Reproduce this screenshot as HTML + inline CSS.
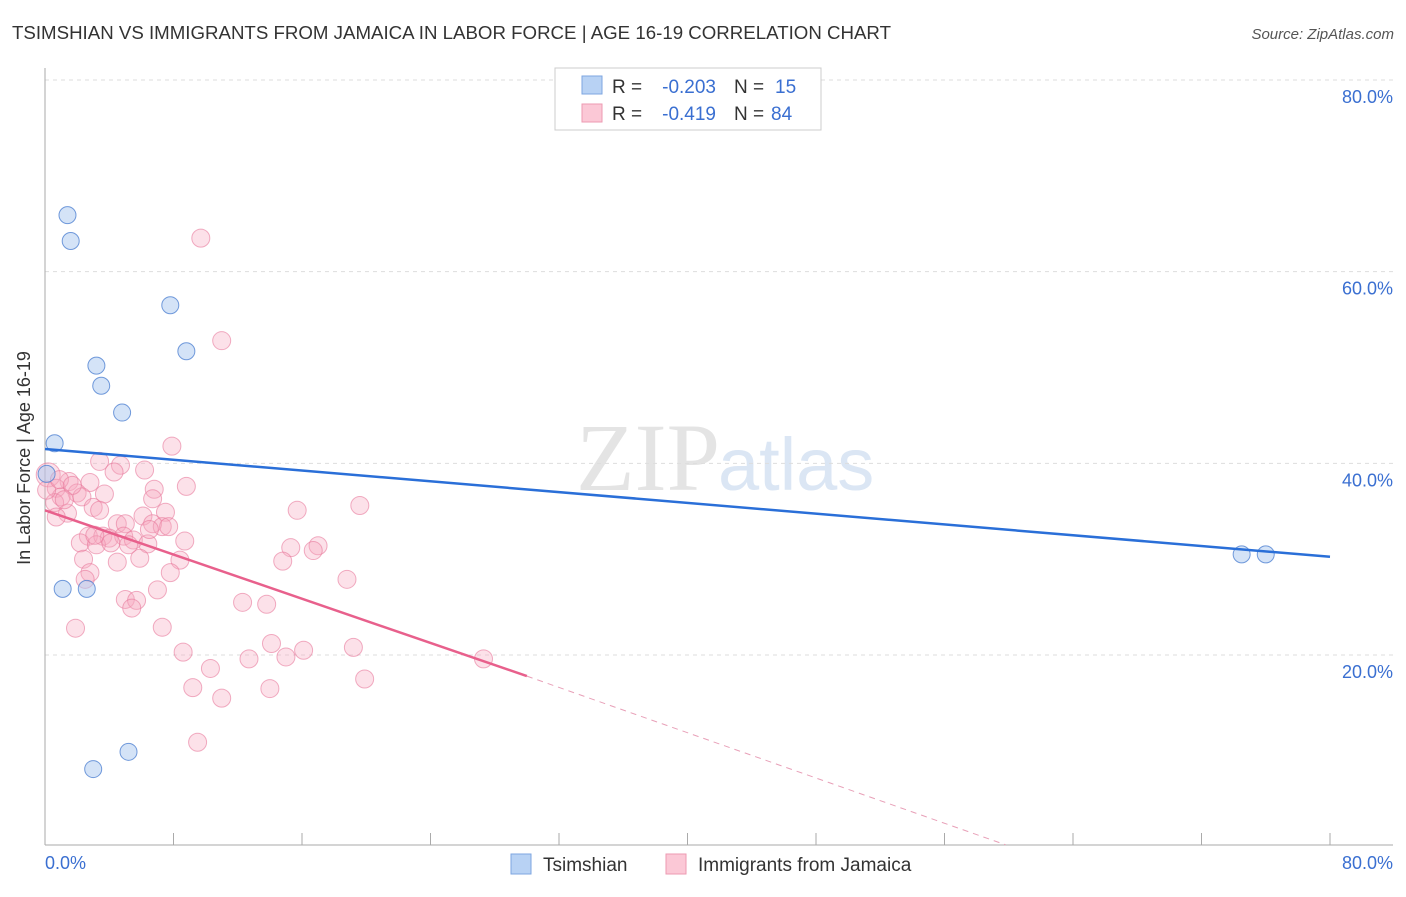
<!DOCTYPE html>
<html><head><meta charset="utf-8"><style>
body{margin:0;background:#fff;font-family:"Liberation Sans",sans-serif}
</style></head><body>
<svg id="c" width="1406" height="892" xmlns="http://www.w3.org/2000/svg" font-family="Liberation Sans, sans-serif">
<text x="12" y="39" font-size="18" fill="#333" textLength="879" lengthAdjust="spacingAndGlyphs">TSIMSHIAN VS IMMIGRANTS FROM JAMAICA IN LABOR FORCE | AGE 16-19 CORRELATION CHART</text>
<text x="1394" y="39" font-size="15" fill="#555" font-style="italic" text-anchor="end">Source: ZipAtlas.com</text>
<text x="720" y="490" font-size="96" fill="#e4e4e4" font-family="Liberation Serif, serif" text-anchor="end">ZIP</text>
<text x="718" y="490" font-size="74" fill="#dbe6f4">atlas</text>
<g id="grid"></g><g id="axes"></g><g id="marks"></g>
<text x="30" y="458" font-size="18" fill="#333" text-anchor="middle" transform="rotate(-90 30 458)">In Labor Force | Age 16-19</text>
<text x="45" y="869" font-size="18" fill="#3a6fd1">0.0%</text>
<text x="1393" y="869" font-size="18" fill="#3a6fd1" text-anchor="end">80.0%</text>
<g>
<rect x="555" y="68" width="266" height="62" fill="#fff" stroke="#ccc"/>
<rect x="582" y="76" width="20" height="18" fill="#b8d2f4" stroke="#7ea6e0"/>
<rect x="582" y="104" width="20" height="18" fill="#fbc8d6" stroke="#ec9ab2"/>
<text x="612" y="93" font-size="19" fill="#333">R =</text>
<text x="716" y="93" font-size="19" fill="#3a6fd1" text-anchor="end">-0.203</text>
<text x="734" y="93" font-size="19" fill="#333">N =</text>
<text x="775" y="93" font-size="19" fill="#3a6fd1">15</text>
<text x="612" y="120" font-size="19" fill="#333">R =</text>
<text x="716" y="120" font-size="19" fill="#3a6fd1" text-anchor="end">-0.419</text>
<text x="734" y="120" font-size="19" fill="#333">N =</text>
<text x="771" y="120" font-size="19" fill="#3a6fd1">84</text>
</g>
<g>
<rect x="511" y="854" width="20" height="20" fill="#b8d2f4" stroke="#7ea6e0"/>
<text x="543" y="871" font-size="19" fill="#333">Tsimshian</text>
<rect x="666" y="854" width="20" height="20" fill="#fbc8d6" stroke="#ec9ab2"/>
<text x="698" y="871" font-size="19" fill="#333">Immigrants from Jamaica</text>
</g>
</svg>
<script>
const yTicks=[20,40,60,80];
const xTickVals=[0,8,16,24,32,40,48,56,64,72,80];
const blueX=[1.4,1.6,7.8,3.2,8.8,3.5,4.8,0.6,0.1,1.1,2.6,5.2,3.0,74.5,76.0];
const blueY=[65.9,63.2,56.5,50.2,51.7,48.1,45.3,42.1,38.9,26.9,26.9,9.9,8.1,30.5,30.5];
const pinkX=[9.7,11.0,7.9,3.4,4.7,6.2,4.3,0.2,1.5,2.8,6.8,8.8,0.7,2.0,3.7,6.7,1.0,2.3,19.6,0.6,3.0,1.4,15.7,7.5,0.7,6.1,4.5,5.0,6.7,7.3,7.7,2.7,3.6,4.0,4.9,2.2,3.2,4.1,5.5,6.4,8.7,17.0,15.3,16.7,2.4,5.9,8.4,4.5,14.8,7.8,2.8,2.5,18.8,7.0,5.0,5.7,12.3,13.8,5.4,1.9,7.3,14.1,19.2,8.6,16.1,15.0,12.7,27.3,10.3,19.9,9.2,14.0,11.0,9.5,0.1,0.9,1.7,1.2,3.4,6.5,5.2,3.1];
const pinkY=[63.5,52.8,41.8,40.2,39.8,39.3,39.1,38.8,38.1,38.0,37.3,37.6,37.4,36.9,36.8,36.3,36.5,36.5,35.6,35.9,35.4,34.8,35.1,34.9,34.4,34.5,33.7,33.7,33.7,33.4,33.4,32.4,32.4,32.2,32.4,31.7,31.5,31.7,32.0,31.6,31.9,31.4,31.2,30.9,30.0,30.1,29.9,29.7,29.8,28.6,28.6,27.9,27.9,26.8,25.8,25.7,25.5,25.3,24.9,22.8,22.9,21.2,20.8,20.3,20.5,19.8,19.6,19.6,18.6,17.5,16.6,16.5,15.5,10.9,37.2,38.3,37.7,36.2,35.1,33.1,31.5,32.5];
const blueTrend=[[0,41.5],[80,30.25]];
const pinkTrend=[[0,35.1],[30,17.8]];
const pinkDash=[[30,17.8],[59.8,0.2]];
const X0=45,X1=1330,Ytop=80;
const sx=v=>X0+(X1-X0)*v/80;
const sy=v=>846.7-(846.7-Ytop)*v/80;
const NS="http://www.w3.org/2000/svg";
function mk(tag,attrs,parent){const e=document.createElementNS(NS,tag);for(const k in attrs)e.setAttribute(k,attrs[k]);document.getElementById(parent).appendChild(e);return e;}
yTicks.forEach(t=>{
 const l=mk('line',{x1:X0,x2:1393,y1:sy(t),y2:sy(t),stroke:'#ddd','stroke-dasharray':'4,4'},'grid');
 
 
 const tx=mk('text',{x:1393,y:sy(t)+23,'font-size':18,fill:'#3a6fd1','text-anchor':'end'},'grid');
 tx.textContent=t.toFixed(1)+'%';
 
 
});
let a=mk('line',{x1:X0,x2:X0,y1:68,y2:845,stroke:'#aaa'},'axes');


a=mk('line',{x1:X0,x2:1393,y1:845,y2:845,stroke:'#aaa'},'axes');


xTickVals.forEach(t=>{
 const l=mk('line',{x1:sx(t),x2:sx(t),y1:833,y2:845,stroke:'#aaa'},'axes');
 
 
});
pinkX.forEach((x,i)=>{
 const c=mk('circle',{cx:sx(x),cy:sy(pinkY[i]),r:(i==7?12:9),fill:'rgba(246,170,192,0.35)',stroke:'rgba(232,120,155,0.6)','stroke-width':1},'marks');
 
 
});
blueX.forEach((x,i)=>{
 const c=mk('circle',{cx:sx(x),cy:sy(blueY[i]),r:8.5,fill:'rgba(170,200,240,0.5)',stroke:'rgba(80,130,210,0.8)','stroke-width':1},'marks');
 
 
});
let t=mk('line',{x1:sx(blueTrend[0][0]),y1:sy(blueTrend[0][1]),x2:sx(blueTrend[1][0]),y2:sy(blueTrend[1][1]),stroke:'#2a6fd8','stroke-width':2.5},'marks');


t=mk('line',{x1:sx(pinkTrend[0][0]),y1:sy(pinkTrend[0][1]),x2:sx(pinkTrend[1][0]),y2:sy(pinkTrend[1][1]),stroke:'#e8608c','stroke-width':2.5},'marks');


t=mk('line',{x1:sx(pinkDash[0][0]),y1:sy(pinkDash[0][1]),x2:sx(pinkDash[1][0]),y2:sy(pinkDash[1][1]),stroke:'#e8a0b8','stroke-width':1,'stroke-dasharray':'6,5'},'marks');


</script>
</body></html>
